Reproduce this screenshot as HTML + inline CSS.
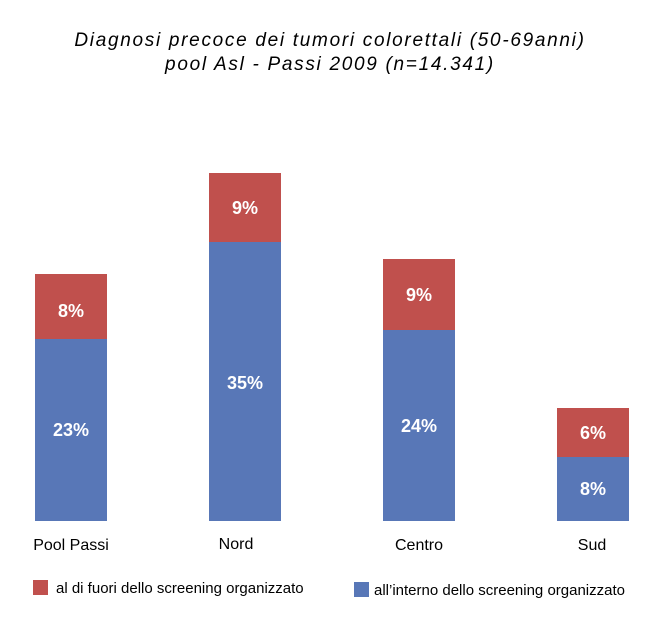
<!DOCTYPE html>
<html><head><meta charset="utf-8"><style>
body{margin:0;width:660px;height:631px;background:#fff;position:relative;font-family:"Liberation Sans",sans-serif;overflow:hidden}
.t{position:absolute;left:0;width:660px;text-align:center;font-style:italic;font-size:19px;letter-spacing:1.7px;color:#000}
.b{position:absolute;width:72px}
.r{background:#C0504D}.u{background:#5877B7}
.v{position:absolute;width:72px;text-align:center;color:#fff;font-weight:bold;font-size:18px}
.c{position:absolute;width:140px;text-align:center;font-size:16px;color:#000}
.lg{position:absolute;font-size:15px;color:#000}
.sq{position:absolute;width:15px;height:15px}
</style></head><body>
<div class="t" style="top:30px">Diagnosi precoce dei tumori colorettali (50-69anni)</div>
<div class="t" style="top:54px">pool Asl - Passi 2009 (n=14.341)</div>

<div class="b r" style="left:35px;top:274px;height:65px"></div>
<div class="b u" style="left:35px;top:339px;height:182px"></div>
<div class="v" style="left:35px;top:301px">8%</div>
<div class="v" style="left:35px;top:420px">23%</div>

<div class="b r" style="left:209px;top:173px;height:69px"></div>
<div class="b u" style="left:209px;top:242px;height:279px"></div>
<div class="v" style="left:209px;top:198px">9%</div>
<div class="v" style="left:209px;top:373px">35%</div>

<div class="b r" style="left:383px;top:259px;height:71px"></div>
<div class="b u" style="left:383px;top:330px;height:191px"></div>
<div class="v" style="left:383px;top:285px">9%</div>
<div class="v" style="left:383px;top:416px">24%</div>

<div class="b r" style="left:557px;top:408px;height:49px"></div>
<div class="b u" style="left:557px;top:457px;height:64px"></div>
<div class="v" style="left:557px;top:423px">6%</div>
<div class="v" style="left:557px;top:479px">8%</div>

<div class="c" style="left:1px;top:537px">Pool Passi</div>
<div class="c" style="left:166px;top:536px">Nord</div>
<div class="c" style="left:349px;top:537px">Centro</div>
<div class="c" style="left:522px;top:537px">Sud</div>

<div class="sq r" style="left:33px;top:580px"></div>
<div class="lg" style="left:56px;top:580px">al di fuori dello screening organizzato</div>
<div class="sq u" style="left:354px;top:582px"></div>
<div class="lg" style="left:374px;top:582px">all’interno dello screening organizzato</div>
</body></html>
